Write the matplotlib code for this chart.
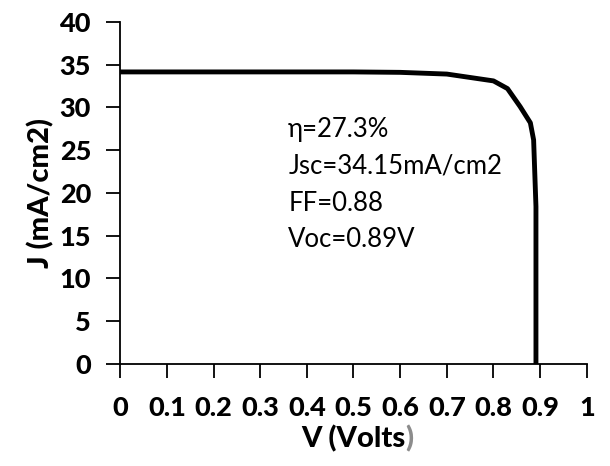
import matplotlib
matplotlib.use("Agg")
import matplotlib.pyplot as plt

plt.rcParams['font.family'] = ['Lato', 'DejaVu Sans']

# J-V curve
volts = [0.0, 0.1, 0.2, 0.3, 0.4, 0.5, 0.6, 0.7, 0.8, 0.83, 0.857, 0.879, 0.886, 0.891, 0.891]
current = [34.15, 34.15, 34.15, 34.15, 34.15, 34.15, 34.1, 33.9, 33.1, 32.2, 30.1, 28.2, 26.2, 18.4, 0.0]

xticks = [0, 0.1, 0.2, 0.3, 0.4, 0.5, 0.6, 0.7, 0.8, 0.9, 1]
xticklabels = ["0", "0.1", "0.2", "0.3", "0.4", "0.5", "0.6", "0.7", "0.8", "0.9", "1"]
yticks = [0, 5, 10, 15, 20, 25, 30, 35, 40]
notes = ["η=27.3%", "Jsc=34.15mA/cm2", "FF=0.88", "Voc=0.89V"]

fig = plt.figure(figsize=(6.1, 4.66), dpi=100)
ax = fig.add_axes([0.197, 0.219, 0.765, 0.734])

ax.plot(volts, current, color="black", lw=3.5, solid_joinstyle="round")

ax.set_xlim(0, 1)
ax.set_ylim(0, 40)
ax.set_xticks(xticks)
ax.set_xticklabels(xticklabels)
ax.set_yticks(yticks)
for s in ["top", "right"]:
    ax.spines[s].set_visible(False)
for s in ["left", "bottom"]:
    ax.spines[s].set_linewidth(1.3)
ax.tick_params(axis="x", direction="out", length=10, width=1.3, pad=13, labelsize=19.5)
ax.tick_params(axis="y", direction="out", length=10, width=1.3, pad=11, labelsize=19.5)
for lab in ax.get_xticklabels() + ax.get_yticklabels():
    lab.set_fontweight("black")

ax.set_ylabel("J (mA/cm2)", fontsize=21, fontweight="black", labelpad=4)
xl = ax.set_xlabel("V (Volts", fontsize=21, fontweight="black", labelpad=4)
ax.annotate(")", xy=(1, 0), xycoords=xl, ha="left", va="bottom",
            fontsize=21, fontweight="black", color="#8c8c8c")

for i, t in enumerate(notes):
    ax.text(0.36, 27.4 - i * 4.3, t, fontsize=18.5, va="center", ha="left")

fig.savefig("out.png", dpi=100)
